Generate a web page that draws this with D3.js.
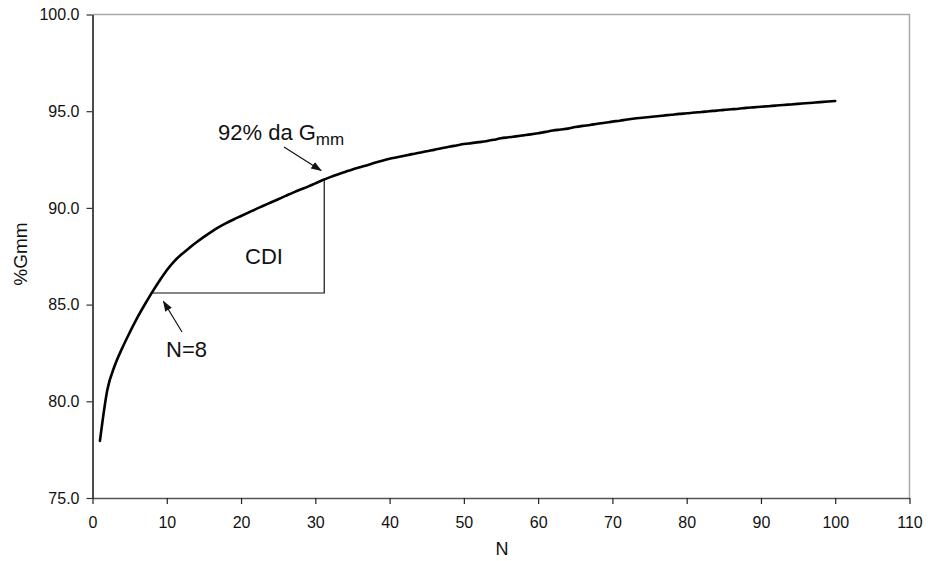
<!DOCTYPE html>
<html>
<head>
<meta charset="utf-8">
<script src="https://cdn.jsdelivr.net/npm/d3@7"></script>
<style>
  body { margin: 0; background: #fff; }
  svg { display: block; font-family: Arial, "Liberation Sans", sans-serif; }
</style>
</head>
<body>
<svg id="chart" width="928" height="561"></svg>
<script>
// Gyratory compaction: number of gyrations N vs. %Gmm
const gyrations = d3.range(1, 101);
const densityPct = [
  77.95, 80.6, 81.85, 82.75, 83.55, 84.3, 84.98, 85.62, 86.22, 86.78,
  87.24, 87.6, 87.92, 88.22, 88.5, 88.76, 89.0, 89.21, 89.4, 89.58,
  89.76, 89.94, 90.11, 90.28, 90.45, 90.62, 90.79, 90.95, 91.1, 91.27,
  91.44, 91.59, 91.73, 91.86, 91.99, 92.1, 92.21, 92.33, 92.44, 92.54,
  92.62, 92.7, 92.78, 92.85, 92.93, 93.0, 93.08, 93.16, 93.23, 93.3,
  93.35, 93.4, 93.45, 93.52, 93.6, 93.65, 93.7, 93.75, 93.8, 93.86,
  93.93, 94.0, 94.05, 94.1, 94.18, 94.24, 94.29, 94.35, 94.4, 94.46,
  94.51, 94.57, 94.62, 94.66, 94.7, 94.74, 94.78, 94.82, 94.86, 94.89,
  94.93, 94.96, 95.0, 95.03, 95.07, 95.1, 95.13, 95.17, 95.2, 95.23,
  95.26, 95.29, 95.32, 95.35, 95.38, 95.41, 95.44, 95.47, 95.5, 95.53
];
const xTicks = [0, 10, 20, 30, 40, 50, 60, 70, 80, 90, 100, 110];
const yTicks = [75, 80, 85, 90, 95, 100];

// CDI region: from N=8 along 85.6 %Gmm to the 92% point
const cdiN = [7.8, 31.2, 31.2];
const cdiG = [85.6, 85.6, 91.5];

const svg = d3.select("#chart");
const plotLeft = 92.5, plotRight = 909.5, plotTop = 14.5, plotBottom = 498;

const x = d3.scaleLinear().domain([0, 110]).range([plotLeft, plotRight]);
const y = d3.scaleLinear().domain([75, 100]).range([plotBottom, plotTop]);

// frame: light top/right borders
svg.append("path")
  .attr("d", `M${plotLeft},${plotTop}H${plotRight}V${plotBottom}`)
  .attr("fill", "none").attr("stroke", "#a8a8a8").attr("stroke-width", 1.5);

// x axis
const xAxis = svg.append("g")
  .attr("transform", `translate(0,${plotBottom})`)
  .call(d3.axisBottom(x).tickValues(xTicks).tickSize(6).tickPadding(13).tickSizeOuter(0));
xAxis.select(".domain").attr("stroke", "#555").attr("stroke-width", 1.5);
xAxis.selectAll(".tick line").attr("stroke", "#222").attr("stroke-width", 1.2);
xAxis.selectAll("text").attr("font-size", 16).attr("fill", "#111")
  .attr("font-family", "Arial, 'Liberation Sans', sans-serif");

// y axis
const yAxis = svg.append("g")
  .attr("transform", `translate(${plotLeft},0)`)
  .call(d3.axisLeft(y).tickValues(yTicks).tickFormat(d3.format(".1f")).tickSize(6).tickPadding(7).tickSizeOuter(0));
yAxis.select(".domain").attr("stroke", "#111").attr("stroke-width", 1.5);
yAxis.selectAll(".tick line").attr("stroke", "#333").attr("stroke-width", 1.2);
yAxis.selectAll("text").attr("font-size", 16).attr("fill", "#111")
  .attr("font-family", "Arial, 'Liberation Sans', sans-serif");

// axis titles
svg.append("text").attr("x", 502).attr("y", 555)
  .attr("text-anchor", "middle").attr("font-size", 18).attr("fill", "#111").text("N");
svg.append("text")
  .attr("transform", `translate(27,${254}) rotate(-90)`)
  .attr("text-anchor", "middle").attr("font-size", 19).attr("fill", "#111").text("%Gmm");

// CDI outline
svg.append("path")
  .datum(cdiN.map((n, i) => [n, cdiG[i]]))
  .attr("d", d3.line().x(d => x(d[0])).y(d => y(d[1])))
  .attr("fill", "none").attr("stroke", "#111").attr("stroke-width", 1.2);

// compaction curve
svg.append("path")
  .datum(gyrations.map((n, i) => [n, densityPct[i]]))
  .attr("d", d3.line().curve(d3.curveMonotoneX).x(d => x(d[0])).y(d => y(d[1])))
  .attr("fill", "none").attr("stroke", "#000").attr("stroke-width", 2.6)
  .attr("stroke-linejoin", "round").attr("stroke-linecap", "round");

// arrowhead marker
svg.append("defs").append("marker")
  .attr("id", "head").attr("viewBox", "0 0 10 10").attr("refX", 9).attr("refY", 5)
  .attr("markerWidth", 9).attr("markerHeight", 9).attr("orient", "auto")
  .append("path").attr("d", "M0,1.5L10,5L0,8.5Z").attr("fill", "#111");

// annotations
svg.append("text").attr("x", 264).attr("y", 264)
  .attr("text-anchor", "middle").attr("font-size", 22).attr("fill", "#111").text("CDI");

svg.append("line").attr("x1", 182).attr("y1", 332).attr("x2", 163.5).attr("y2", 301.5)
  .attr("stroke", "#111").attr("stroke-width", 1.2).attr("marker-end", "url(#head)");
svg.append("text").attr("x", 166).attr("y", 357)
  .attr("font-size", 22).attr("fill", "#111").text("N=8");

svg.append("line").attr("x1", 284).attr("y1", 147).attr("x2", 321).attr("y2", 170.5)
  .attr("stroke", "#111").attr("stroke-width", 1.2).attr("marker-end", "url(#head)");
const lab = svg.append("text").attr("x", 218).attr("y", 140)
  .attr("font-size", 22).attr("fill", "#111");
lab.append("tspan").text("92% da G");
lab.append("tspan").attr("font-size", 17).attr("dy", 5).text("mm");
</script>
</body>
</html>
